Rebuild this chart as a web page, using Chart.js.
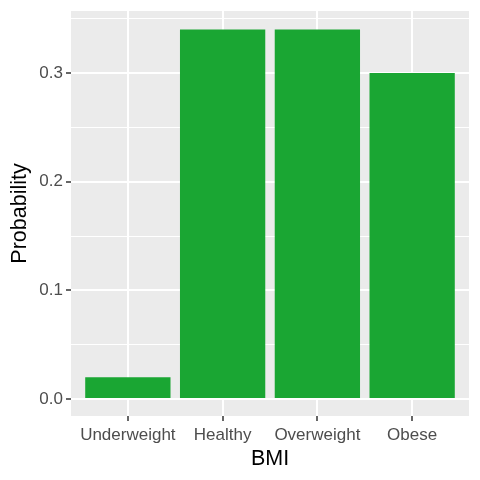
<!DOCTYPE html>
<html>
<head>
<meta charset="utf-8">
<script src="https://cdn.jsdelivr.net/npm/chart.js@4"></script>
<style>
  html, body { margin: 0; padding: 0; background: #fff; }
  #wrap { width: 480px; height: 480px; }
</style>
</head>
<body>
<div id="wrap"><canvas id="bmiChart"></canvas></div>
<script>
// data
const categories = ['Underweight', 'Healthy', 'Overweight', 'Obese'];
const probabilities = [0.02, 0.34, 0.34, 0.30];
const yMajorTicks = [0, 0.1, 0.2, 0.3];
const yMinorTicks = [0.05, 0.15, 0.25, 0.35];

const FONT = 'Liberation Sans, Arial, Helvetica, sans-serif';

const panelBg = {
    id: 'panelBg',
    beforeDraw(chart) {
        const a = chart.chartArea;
        const ctx = chart.ctx;
        ctx.save();
        ctx.fillStyle = '#ebebeb';
        ctx.fillRect(a.left, a.top, a.right - a.left, a.bottom - a.top);
        ctx.restore();
    }
};

function isMajor(v) {
    return yMajorTicks.some(t => Math.abs(t - v) < 1e-9);
}

const ctx = document.getElementById('bmiChart').getContext('2d');
new Chart(ctx, {
    type: 'bar',
    data: {
        datasets: [{
            label: 'Probability',
            data: probabilities.map((p, i) => ({ x: i, y: p })),
            backgroundColor: '#1aa633',
            borderWidth: 0,
            categoryPercentage: 1,
            barPercentage: 0.9
        }]
    },
    options: {
        responsive: true,
        maintainAspectRatio: false,
        animation: false,
        layout: { padding: { left: 0, right: 11, top: 11, bottom: 0 } },
        plugins: {
            legend: { display: false },
            tooltip: { enabled: false }
        },
        scales: {
            x: {
                type: 'linear',
                offset: false,
                min: -0.6,
                max: categories.length - 1 + 0.6,
                afterBuildTicks(scale) {
                    scale.ticks = categories.map((_, i) => ({ value: i }));
                },
                afterFit(scale) {
                    scale.height = 64;
                    scale.paddingLeft = 0;
                    scale.paddingRight = 0;
                },
                ticks: {
                    autoSkip: false,
                    maxRotation: 0,
                    padding: 4,
                    color: '#4d4d4d',
                    font: { family: FONT, size: 17 },
                    callback: v => categories[Math.round(v)]
                },
                grid: {
                    offset: false,
                    color: '#ffffff',
                    lineWidth: 2,
                    tickColor: '#333333',
                    tickLength: 5,
                    tickWidth: 1.5
                },
                border: { display: false },
                title: {
                    display: true,
                    text: 'BMI',
                    color: '#000000',
                    padding: { top: 0, bottom: 8 },
                    font: { family: FONT, size: 21.5 }
                }
            },
            y: {
                type: 'linear',
                min: -0.0156,
                max: 0.357,
                afterBuildTicks(scale) {
                    scale.ticks = yMajorTicks.concat(yMinorTicks)
                        .sort((a, b) => a - b)
                        .map(v => ({ value: v }));
                },
                afterFit(scale) {
                    scale.width = 71;
                    scale.paddingTop = 0;
                    scale.paddingBottom = 0;
                },
                ticks: {
                    padding: 3,
                    color: '#4d4d4d',
                    font: { family: FONT, size: 17 },
                    callback: v => isMajor(v) ? v.toFixed(1) : ''
                },
                grid: {
                    color: '#ffffff',
                    lineWidth: c => isMajor(c.tick.value) ? 2 : 1,
                    tickColor: c => isMajor(c.tick.value) ? '#333333' : 'rgba(0,0,0,0)',
                    tickLength: 5,
                    tickWidth: 1.5
                },
                border: { display: false },
                title: {
                    display: true,
                    text: 'Probability',
                    color: '#000000',
                    padding: { top: 7, bottom: 0 },
                    font: { family: FONT, size: 21.5 }
                }
            }
        }
    },
    plugins: [panelBg]
});
</script>
</body>
</html>
